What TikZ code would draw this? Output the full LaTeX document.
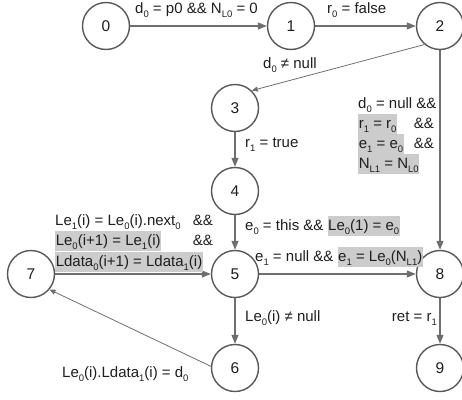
\documentclass[tikz,border=0pt]{standalone}
\usepackage{fontspec}
\setmainfont{Liberation Sans}
\usetikzlibrary{arrows.meta}
\definecolor{edgegray}{HTML}{6E6E6E}
\definecolor{circgray}{HTML}{585858}
\definecolor{hlgray}{HTML}{CCCCCC}
\definecolor{txt}{HTML}{1E1E1E}
\newcommand\sbs[1]{\raisebox{-4pt}{\fontsize{9.5}{10}\selectfont #1}}
\newcommand\hlt[1]{{\fboxsep=0.6pt\colorbox{hlgray}{\rule[-5.5pt]{0pt}{19pt}#1}}}
\tikzset{
  st/.style={circle, draw=circgray, line width=1.4pt, minimum size=47pt, inner sep=0pt,
             font=\fontsize{15.5}{17}\selectfont, text=txt},
  ed/.style={draw=edgegray, line width=1.2pt, -{Triangle[length=9pt,width=7pt]}},
  edthin/.style={draw=edgegray, line width=0.8pt, -{Triangle[length=6pt,width=5pt]}},
  lbl/.style={inner sep=0pt, font=\fontsize{15}{17}\selectfont, text=txt},
}
\begin{document}
\begin{tikzpicture}[x=1pt,y=-1pt]
\useasboundingbox (0,0) rectangle (462,399);
\node[st] (n0) at (106,26) {0};
\node[st] (n1) at (291,26) {1};
\node[st] (n2) at (440,26) {2};
\node[st] (n3) at (235,108) {3};
\node[st] (n4) at (235,191) {4};
\node[st] (n5) at (235,274) {5};
\node[st] (n6) at (235,368) {6};
\node[st] (n7) at (31,274) {7};
\node[st] (n8) at (440,274) {8};
\node[st] (n9) at (440,368) {9};

\draw[ed] (n0) -- (n1);
\draw[ed] (n1) -- (n2);
\draw[edthin] (n2.230) -- (n3.46);
\draw[ed] (n2.south) -- (n8.north);
\draw[ed] (n3) -- (n4);
\draw[ed] (n4) -- (n5);
\draw[ed] (n7) -- (n5);
\draw[ed] (n5) -- (n8);
\draw[ed] (n5) -- (n6);
\draw[edthin] (n6.176) -- (n7.320);
\draw[ed] (n8) -- (n9);

% labels
\node[lbl, anchor=base west] (l01) at (135,13.5) {d\sbs{0} = p0 \&\& N\sbs{L0} = 0};
\node[lbl, anchor=base west] (l12) at (327,13.5) {r\sbs{0} = false};
\node[lbl, anchor=base west] (l23) at (263,68) {d\sbs{0} ≠ null};

\node[lbl, anchor=base west] (l28a) at (358,108) {d\sbs{0} = null \&\&};
\node[lbl, anchor=base west] (l28b) at (358,128) {\hlt{r\sbs{1} = r\sbs{0}}};
\node[lbl, anchor=base west] (l28c) at (358,148) {\hlt{e\sbs{1} = e\sbs{0}}};
\node[lbl, anchor=base west] (l28d) at (358,168) {\hlt{N\sbs{L1} = N\sbs{L0}}};
\node[lbl, anchor=base east] (l28e) at (434,128) {\&\&};
\node[lbl, anchor=base east] (l28f) at (434,148) {\&\&};

\node[lbl, anchor=base west] (l34) at (245,147) {r\sbs{1} = true};
\node[lbl, anchor=base west] (l45) at (245,230) {e\sbs{0} = this \&\& \hlt{Le\sbs{0}(1) = e\sbs{0}}};

\node[lbl, anchor=base west] (l75a) at (55,225) {Le\sbs{1}(i) = Le\sbs{0}(i).next\sbs{0}};
\node[lbl, anchor=base west] (l75b) at (55,245) {\hlt{Le\sbs{0}(i+1) = Le\sbs{1}(i)}};
\node[lbl, anchor=base west] (l75c) at (55,266) {\hlt{Ldata\sbs{0}(i+1) = Ldata\sbs{1}(i)}};
\node[lbl, anchor=base east] (l75d) at (213,225) {\&\&};
\node[lbl, anchor=base east] (l75e) at (213,245) {\&\&};

\node[lbl, anchor=base west] (l58) at (255,261) {e\sbs{1} = null \&\& \hlt{e\sbs{1} = Le\sbs{0}(N\sbs{L1})}};
\node[lbl, anchor=base west] (l56) at (245,321) {Le\sbs{0}(i) ≠ null};
\node[lbl, anchor=base east] (l89) at (437,321) {ret = r\sbs{1}};
\node[lbl, anchor=base west] (l67) at (62,377) {Le\sbs{0}(i).Ldata\sbs{1}(i) = d\sbs{0}};
\end{tikzpicture}
\end{document}
